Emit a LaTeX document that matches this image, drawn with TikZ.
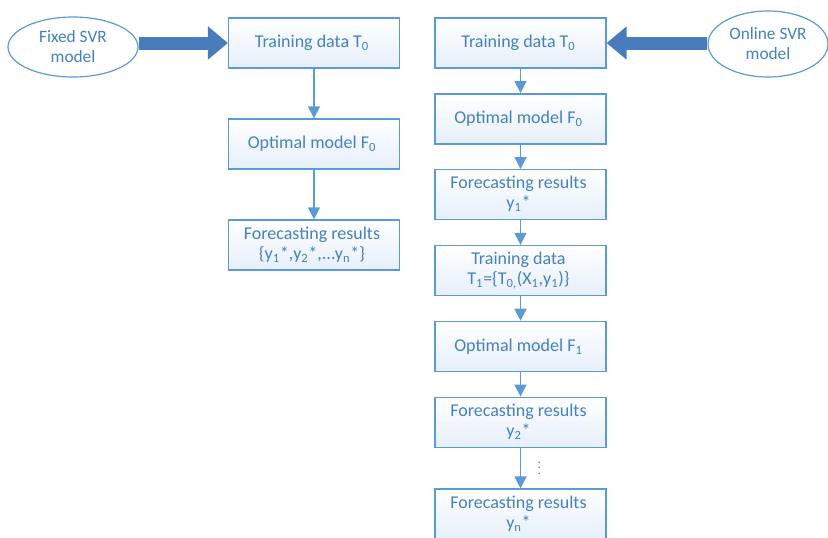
\documentclass[tikz,border=0pt]{standalone}
\usepackage{fontspec}
\setmainfont{Carlito}
\usepackage{xcolor}
\usepackage{tikz}
\usetikzlibrary{matrix}
\usetikzlibrary{shapes.geometric}
\usetikzlibrary{arrows.meta,backgrounds}

\definecolor{boxline}{RGB}{91,155,213}
\definecolor{boxtext}{RGB}{68,128,196}
\definecolor{boxfill}{RGB}{230,239,250}
\definecolor{bigblue}{RGB}{72,124,186}

\newcommand{\twolines}[2]{\begin{tabular}{@{}c@{}}#1\\#2\end{tabular}}

\tikzset{
  stepbox/.style={draw=boxline, line width=1.1pt, top color=white, bottom color=boxfill,
    minimum width=128pt, minimum height=37.5pt, inner sep=2pt, align=center,
    text=boxtext, font=\fontsize{13.5}{15}\selectfont},
  svrnode/.style={ellipse, draw=boxline, line width=0.9pt, fill=white, inner sep=0pt,
    align=center, text=boxtext, font=\fontsize{13}{15}\selectfont},
  bigarrow/.style={draw=bigblue, line width=9.75pt, -{Triangle[length=15pt,width=24pt]}}
}

\begin{document}
\begin{tikzpicture}[>={Triangle[length=9pt,width=9pt]} , x=0.75pt , y=-0.75pt]
            \useasboundingbox (0,0) rectangle (828,537);
            % fixed model column
            \matrix (fixed) [%
              matrix of nodes,
              nodes=stepbox,
              row sep=37.2pt,
              inner sep=0pt,
              anchor=north,
              ampersand replacement=\&
            ] at (314,17)
                  {
              Training data T\textsubscript{0} \\
              Optimal model F\textsubscript{0} \\
              \twolines{Forecasting results}{\{y\textsubscript{1}*,y\textsubscript{2}*,...y\textsubscript{n}*\}} \\
            };
            % online model column
            \matrix (online) [%
              matrix of nodes,
              nodes=stepbox,
              row sep=18.3pt,
              inner sep=0pt,
              anchor=north,
              ampersand replacement=\&
            ] at (520.5,17)
                  {
              Training data T\textsubscript{0} \\
              Optimal model F\textsubscript{0} \\
              \twolines{Forecasting results}{y\textsubscript{1}*} \\
              \twolines{Training data}{T\textsubscript{1}=\{T\textsubscript{0,}(X\textsubscript{1},y\textsubscript{1})\}} \\
              Optimal model F\textsubscript{1} \\
              \twolines{Forecasting results}{y\textsubscript{2}*} \\[12pt]
              \twolines{Forecasting results}{y\textsubscript{n}*} \\
            };
            \node[svrnode, minimum width=97.5pt, minimum height=45pt] (svrfixed) at (73,47) {Fixed SVR\\model};
            \node[svrnode, minimum width=90pt, minimum height=49.5pt] (svronline) at (768,44) {Online SVR\\model};
            \draw[bigarrow] (svrfixed.east |- fixed-1-1.west) -- (fixed-1-1.west) ;
            \draw[bigarrow] (svronline.west |- online-1-1.east) -- (online-1-1.east) ;
            \draw[->, boxline, line width=1pt] (fixed-1-1) -- (fixed-2-1) ;
            \draw[->, boxline, line width=1pt] (fixed-2-1) -- (fixed-3-1) ;
            \draw[->, boxline, line width=1pt] (online-1-1) -- (online-2-1) ;
            \draw[->, boxline, line width=1pt] (online-2-1) -- (online-3-1) ;
            \draw[->, boxline, line width=1pt] (online-3-1) -- (online-4-1) ;
            \draw[->, boxline, line width=1pt] (online-4-1) -- (online-5-1) ;
            \draw[->, boxline, line width=1pt] (online-5-1) -- (online-6-1) ;
            \draw[->, boxline, line width=1pt] (online-6-1) -- (online-7-1) node [midway,right,xshift=9pt,yshift=3pt,text=boxtext]{$\vdots$} ;
        \end{tikzpicture}
\end{document}
